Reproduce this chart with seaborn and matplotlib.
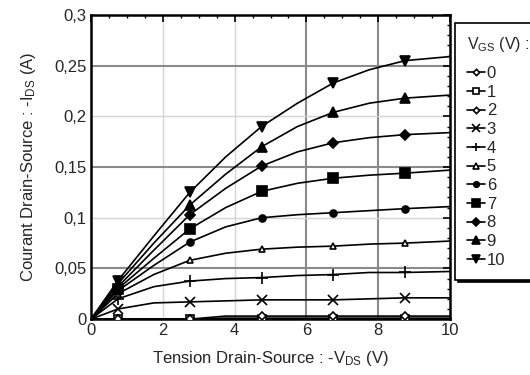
import numpy as np
import pandas as pd
import seaborn as sns
import matplotlib
matplotlib.use("Agg")
import matplotlib.pyplot as plt
from matplotlib.ticker import MultipleLocator, FuncFormatter

# Tension drain-source -V_DS (V)
vds = [0, 0.75, 1.75, 2.75, 3.75, 4.75, 5.75, 6.75, 7.75, 8.75, 10]

# Courant -I_DS (A) pour chaque V_GS
ids_0 = [0, 0, 0, 0, 0.001, 0.001, 0.001, 0.001, 0.001, 0.001, 0.001]
ids_1 = [0, 0, 0, 0, 0, 0, 0, 0, 0, 0, 0]
ids_2 = [0, 0, 0, 0, 0.003, 0.003, 0.003, 0.003, 0.003, 0.003, 0.003]
ids_3 = [0, 0.010, 0.016, 0.017, 0.018, 0.019, 0.019, 0.019, 0.020, 0.021, 0.021]
ids_4 = [0, 0.020, 0.032, 0.0375, 0.040, 0.041, 0.043, 0.044, 0.046, 0.046, 0.047]
ids_5 = [0, 0.025, 0.044, 0.058, 0.065, 0.069, 0.071, 0.072, 0.074, 0.075, 0.077]
ids_6 = [0, 0.028, 0.053, 0.076, 0.091, 0.100, 0.103, 0.105, 0.107, 0.109, 0.111]
ids_7 = [0, 0.030, 0.060, 0.089, 0.110, 0.126, 0.134, 0.139, 0.142, 0.144, 0.147]
ids_8 = [0, 0.032, 0.068, 0.103, 0.129, 0.151, 0.165, 0.174, 0.179, 0.182, 0.184]
ids_9 = [0, 0.035, 0.075, 0.1125, 0.143, 0.170, 0.190, 0.204, 0.213, 0.218, 0.221]
ids_10 = [0, 0.038, 0.082, 0.125, 0.160, 0.190, 0.213, 0.233, 0.246, 0.255, 0.259]

vgs_labels = ["0", "1", "2", "3", "4", "5", "6", "7", "8", "9", "10"]
series = [ids_0, ids_1, ids_2, ids_3, ids_4, ids_5, ids_6, ids_7, ids_8, ids_9, ids_10]

# style des marqueurs (marker, taille, remplissage)
styles = [
    ("D", 4, "white"),
    ("s", 6, "white"),
    ("D", 4, "white"),
    ("x", 7, "black"),
    ("+", 8, "black"),
    ("^", 5, "white"),
    ("o", 5, "black"),
    ("s", 7, "black"),
    ("D", 5.5, "black"),
    ("^", 6.5, "black"),
    ("v", 6.5, "black"),
]

sns.set_style("white")
plt.rcParams["font.family"] = ["Liberation Sans", "DejaVu Sans"]
plt.rcParams["mathtext.fontset"] = "custom"
plt.rcParams["mathtext.rm"] = "Liberation Sans"
plt.rcParams["mathtext.it"] = "Liberation Sans"

FS = 12

fig = plt.figure(figsize=(5.3, 3.75), dpi=100)
ax = fig.add_axes([0.1717, 0.149, 0.6775, 0.811])

# grille : certaines lignes claires, d'autres plus foncées
for x in [2, 4]:
    ax.axvline(x, color="#d4d4d4", lw=1, zorder=0)
for x in [6, 8]:
    ax.axvline(x, color="#8a8a8a", lw=1.5, zorder=0)
for y in [0.1, 0.2]:
    ax.axhline(y, color="#d4d4d4", lw=1, zorder=0)
for y in [0.05, 0.15, 0.25]:
    ax.axhline(y, color="#8a8a8a", lw=1.5, zorder=0)

for lab, ids, (mk, ms, fc) in zip(vgs_labels, series, styles):
    df = pd.DataFrame({"Vds": vds, "Ids": ids})
    sns.lineplot(x="Vds", y="Ids", data=df, ax=ax, color="black", lw=1.2,
                 marker=mk, markersize=ms, markerfacecolor=fc,
                 markeredgecolor="black", markeredgewidth=1.2,
                 markevery=[1, 3, 5, 7, 9], label=lab, zorder=3)

ax.set_xlim(0, 10)
ax.set_ylim(0, 0.3)
ax.xaxis.set_major_locator(MultipleLocator(2))
ax.xaxis.set_minor_locator(MultipleLocator(0.5))
ax.yaxis.set_major_locator(MultipleLocator(0.05))
ax.yaxis.set_minor_locator(MultipleLocator(0.01))
fmt = FuncFormatter(lambda v, p: f"{v:g}".replace(".", ","))
ax.xaxis.set_major_formatter(fmt)
ax.yaxis.set_major_formatter(fmt)
ax.tick_params(which="both", direction="in", top=True, right=True,
               labelsize=FS, color="black")
ax.tick_params(which="major", length=5, width=1.2, pad=3)
ax.tick_params(which="minor", length=2.5, width=1)
for s in ax.spines.values():
    s.set_linewidth(1.8)
    s.set_color("black")

ax.set_xlabel(r"Tension Drain-Source : -V$_{\mathrm{DS}}$ (V)", fontsize=FS, labelpad=8)
ax.set_ylabel(r"Courant Drain-Source : -I$_{\mathrm{DS}}$ (A)", fontsize=FS, labelpad=12)

leg = ax.legend(title=r"V$_{\mathrm{GS}}$ (V) :", loc="upper left",
                bbox_to_anchor=(0.858, 0.94), bbox_transform=fig.transFigure,
                borderaxespad=0, fontsize=FS, title_fontsize=11.5, handlelength=1.1,
                handletextpad=0.1, labelspacing=0.22, borderpad=0.72,
                markerscale=0.8, fancybox=False, shadow={"color": "black", "alpha": 1},
                edgecolor="black", framealpha=1, alignment="left")
leg.get_frame().set_linewidth(1.2)
leg._legend_box.sep = 9

fig.savefig("out.png", dpi=100)
